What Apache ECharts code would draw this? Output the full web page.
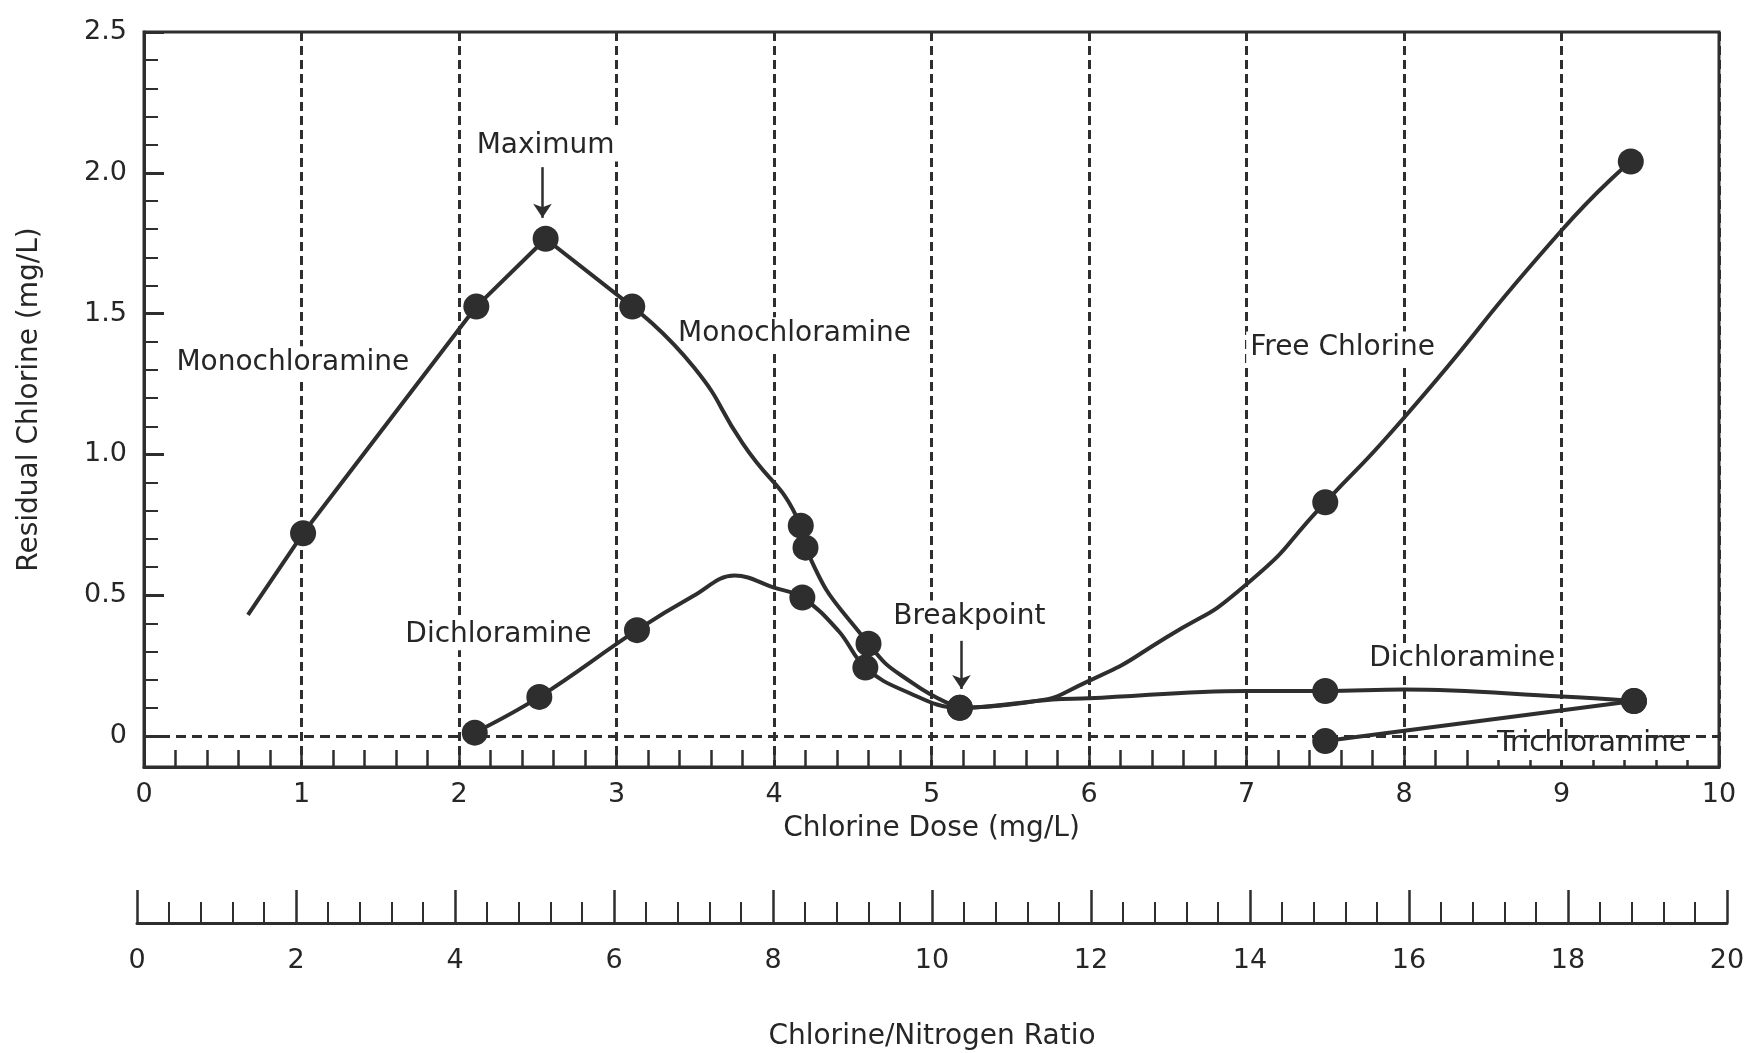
<!DOCTYPE html>
<html>
<head>
<meta charset="utf-8">
<title>Breakpoint chlorination</title>
<script src="https://cdn.jsdelivr.net/npm/echarts@6/dist/echarts.min.js"></script>
<style>
  html, body { margin: 0; padding: 0; background: #fff; }
  #chart { width: 1762px; height: 1053px; }
</style>
</head>
<body>
<div id="chart"></div>
<script>
// values (dose in mg/L, residual in mg/L)
// 1 = a dot is drawn at that point, 0 = just a point on the curve
var monoRiseDose = [0.66, 1.01, 2.11, 2.55, 3.10];
var monoRiseResidual = [0.43, 0.72, 1.525, 1.766, 1.525];
var monoRiseDots = [0, 1, 1, 1, 1];

var monoFallDose = [3.10, 3.49, 3.80, 4.17, 4.20, 4.60, 4.89, 5.18];
var monoFallResidual = [1.525, 1.31, 1.04, 0.747, 0.669, 0.328, 0.184, 0.10];
var monoFallDots = [0, 0, 0, 1, 1, 1, 0, 1];

var dichDose = [2.10, 2.51, 3.13, 3.49, 3.75, 4.00, 4.18, 4.41, 4.58, 4.83, 5.18, 5.77, 6.00, 7.00, 7.50, 8.00, 9.00, 9.46];
var dichResidual = [0.012, 0.139, 0.376, 0.498, 0.57, 0.527, 0.492, 0.373, 0.243, 0.16, 0.10, 0.13, 0.134, 0.16, 0.16, 0.165, 0.14, 0.124];
var dichDots = [1, 1, 1, 0, 0, 0, 1, 0, 1, 0, 1, 0, 0, 0, 1, 0, 0, 1];

var freeDose = [5.18, 5.59, 6.00, 6.49, 7.00, 7.50, 8.00, 9.00, 9.44];
var freeResidual = [0.10, 0.118, 0.196, 0.35, 0.539, 0.83, 1.13, 1.795, 2.04];
var freeDots = [0, 0, 0, 0, 0, 1, 0, 0, 1];

var trichDose = [7.50, 9.46];
var trichResidual = [-0.018, 0.124];
var trichDots = [1, 1];

// y axis ticks
var yLabelTicks = [0, 0.5, 1.0, 1.5, 2.0, 2.5];
var yMinorTicks = [0.1, 0.2, 0.3, 0.4, 0.6, 0.7, 0.8, 0.9, 1.1, 1.2, 1.3, 1.4,
                   1.6, 1.7, 1.8, 1.9, 2.1, 2.2, 2.3, 2.4];

// text labels on the plot
var noteText = ['Monochloramine', 'Maximum', 'Monochloramine', 'Dichloramine',
                'Breakpoint', 'Free Chlorine', 'Dichloramine', 'Trichloramine'];
var noteDose = [0.945, 2.55, 4.13, 2.25, 5.24, 7.61, 8.37, 9.19];
var noteResidual = [1.327, 2.097, 1.43, 0.361, 0.424, 1.38, 0.273, -0.028];

var ink = '#2e2e2e';
var textInk = '#262626';
var font = 'DejaVu Sans';

function curve(dose, residual, dots) {
    return dose.map(function (d, i) {
        return { value: [d, residual[i]], symbol: dots[i] ? 'circle' : 'none' };
    });
}

function lineSeries(name, data, smooth) {
    return {
        name: name,
        type: 'line',
        xAxisIndex: 0,
        yAxisIndex: 0,
        data: data,
        smooth: smooth,
        symbolSize: 26,
        showAllSymbol: true,
        z: 3,
        itemStyle: { color: ink },
        lineStyle: { color: ink, width: 4 }
    };
}

var chart = echarts.init(document.getElementById('chart'));

chart.setOption({
    animation: false,
    backgroundColor: '#ffffff',
    textStyle: { fontFamily: font, color: textInk },
    grid: [
        { left: 144, right: 43, top: 32, bottom: 286, show: true,
          borderColor: ink, borderWidth: 3 },
        { left: 137, right: 35, top: 880, bottom: 130, show: false }
    ],
    xAxis: [
        {
            type: 'value', gridIndex: 0, min: 0, max: 10, interval: 1,
            name: 'Chlorine Dose (mg/L)', nameLocation: 'middle', nameGap: 48,
            nameTextStyle: { fontSize: 28, color: textInk },
            axisLine: { show: true, onZero: false, lineStyle: { color: ink, width: 3 } },
            axisTick: { show: true, inside: true, length: 17, lineStyle: { color: ink, width: 2.5 } },
            minorTick: { show: true, splitNumber: 5, length: 17, lineStyle: { color: ink, width: 2.5 } },
            axisLabel: { fontSize: 27, margin: 14, color: textInk },
            splitLine: { show: true, lineStyle: { color: ink, width: 3, type: [9, 5] } }
        },
        {
            type: 'value', gridIndex: 1, min: 0, max: 20, interval: 2,
            name: 'Chlorine/Nitrogen Ratio', nameLocation: 'middle', nameGap: 100,
            nameTextStyle: { fontSize: 28, color: textInk },
            axisLine: { show: true, onZero: false, lineStyle: { color: ink, width: 3 } },
            axisTick: { show: true, inside: true, length: 33, lineStyle: { color: ink, width: 2.5 } },
            minorTick: { show: true, splitNumber: 5, length: 21, lineStyle: { color: ink, width: 2 } },
            axisLabel: { fontSize: 27, margin: 24, color: textInk },
            splitLine: { show: false }
        }
    ],
    yAxis: [
        {
            type: 'value', gridIndex: 0, min: -0.11, max: 2.5,
            name: 'Residual Chlorine (mg/L)', nameLocation: 'middle', nameGap: 100,
            nameRotate: 90,
            nameTextStyle: { fontSize: 28, color: textInk },
            axisLine: { show: true, onZero: false, lineStyle: { color: ink, width: 3 } },
            axisTick: { show: true, inside: true, length: 20, customValues: yLabelTicks,
                        lineStyle: { color: ink, width: 3 } },
            axisLabel: {
                customValues: yLabelTicks, fontSize: 27, margin: 17, color: textInk,
                padding: [0, 0, 22, 0],
                formatter: function (v) { return v === 0 ? '0' : v.toFixed(1); }
            },
            splitLine: { show: false }
        },
        {
            type: 'value', gridIndex: 0, min: -0.11, max: 2.5, position: 'left',
            axisLine: { show: false, onZero: false },
            axisTick: { show: true, inside: true, length: 14, customValues: yMinorTicks,
                        lineStyle: { color: ink, width: 2 } },
            axisLabel: { show: false },
            splitLine: { show: false }
        },
        { type: 'value', gridIndex: 1, min: 0, max: 1, show: false }
    ],
    series: [
        lineSeries('Monochloramine', curve(monoRiseDose, monoRiseResidual, monoRiseDots), false),
        lineSeries('Monochloramine decline', curve(monoFallDose, monoFallResidual, monoFallDots), 0.55),
        lineSeries('Dichloramine', curve(dichDose, dichResidual, dichDots), 0.4),
        lineSeries('Free Chlorine', curve(freeDose, freeResidual, freeDots), 0.6),
        lineSeries('Trichloramine', curve(trichDose, trichResidual, trichDots), false),
        {
            name: 'notes',
            type: 'scatter',
            xAxisIndex: 0,
            yAxisIndex: 0,
            z: 1,
            symbolSize: 0,
            itemStyle: { opacity: 1, color: 'transparent' },
            data: noteText.map(function (t, i) { return [noteDose[i], noteResidual[i], t]; }),
            label: {
                show: true, position: 'inside', fontSize: 28, color: textInk,
                textBorderWidth: 0, textBorderColor: 'transparent',
                backgroundColor: '#ffffff', padding: [2, 4],
                formatter: function (p) { return p.data[2]; }
            },
            markLine: {
                silent: true,
                label: { show: false },
                symbol: ['none', 'none'],
                lineStyle: { color: ink, width: 2.5, type: 'solid', opacity: 1 },
                data: [
                    { yAxis: 0, lineStyle: { color: ink, width: 3, type: [10, 6] } },
                    [{ coord: [2.53, 2.02], symbol: 'none' },
                     { coord: [2.53, 1.84], symbol: 'arrow', symbolSize: 14 }],
                    [{ coord: [5.19, 0.338], symbol: 'none' },
                     { coord: [5.19, 0.167], symbol: 'arrow', symbolSize: 14 }]
                ]
            }
        },
        {
            name: 'ratio',
            type: 'line',
            xAxisIndex: 1,
            yAxisIndex: 2,
            data: []
        }
    ]
});
</script>
</body>
</html>
